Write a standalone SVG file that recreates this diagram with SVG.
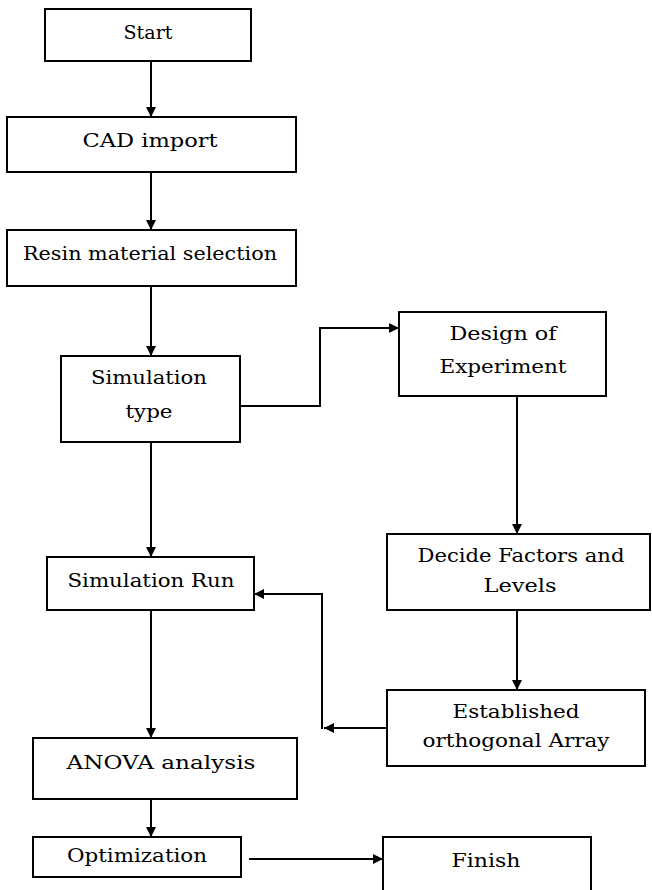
<svg xmlns="http://www.w3.org/2000/svg" width="652" height="890" viewBox="0 0 652 890">
<style>
.box{fill:#fff;stroke:#000;stroke-width:2}
.ln{fill:none;stroke:#000;stroke-width:2}
text{font-family:"DejaVu Serif","Liberation Serif",serif;font-size:18px;fill:#000;text-anchor:middle}
</style>
<defs>
<marker id="ah" markerUnits="userSpaceOnUse" markerWidth="11" markerHeight="11" refX="10" refY="5" orient="auto">
<path d="M0,0 L10,5 L0,10 z" fill="#000"/>
</marker>
</defs>
<rect width="652" height="890" fill="#fff"/>
<g id="connectors">
<line class="ln" x1="151" y1="61" x2="151" y2="117" marker-end="url(#ah)"/>
<line class="ln" x1="151" y1="172" x2="151" y2="230" marker-end="url(#ah)"/>
<line class="ln" x1="151" y1="286" x2="151" y2="356" marker-end="url(#ah)"/>
<polyline class="ln" points="240,406 320,406 320,328 399,328" marker-end="url(#ah)"/>
<line class="ln" x1="151" y1="442" x2="151" y2="557" marker-end="url(#ah)"/>
<line class="ln" x1="517" y1="396" x2="517" y2="534" marker-end="url(#ah)"/>
<line class="ln" x1="517" y1="610" x2="517" y2="690" marker-end="url(#ah)"/>
<line class="ln" x1="387" y1="728" x2="324" y2="728" marker-end="url(#ah)"/>
<polyline class="ln" points="322,729 322,594 254,594" marker-end="url(#ah)"/>
<line class="ln" x1="151" y1="610" x2="151" y2="738" marker-end="url(#ah)"/>
<line class="ln" x1="151" y1="799" x2="151" y2="837" marker-end="url(#ah)"/>
<line class="ln" x1="249" y1="859" x2="383" y2="859" marker-end="url(#ah)"/>
</g>
<g id="start"><rect class="box" x="45" y="9" width="206" height="52"/><text x="148" y="39" textLength="49" lengthAdjust="spacingAndGlyphs">Start</text></g>
<g id="cad"><rect class="box" x="7" y="117" width="289" height="55"/><text x="150" y="147" textLength="135" lengthAdjust="spacingAndGlyphs">CAD import</text></g>
<g id="resin"><rect class="box" x="7" y="230" width="289" height="56"/><text x="150" y="260" textLength="254" lengthAdjust="spacingAndGlyphs">Resin material selection</text></g>
<g id="simtype"><rect class="box" x="61" y="356" width="179" height="86"/><text x="149" y="384" textLength="116" lengthAdjust="spacingAndGlyphs">Simulation</text><text x="149" y="418" textLength="47" lengthAdjust="spacingAndGlyphs">type</text></g>
<g id="doe"><rect class="box" x="399" y="312" width="207" height="84"/><text x="503" y="340" textLength="107" lengthAdjust="spacingAndGlyphs">Design of</text><text x="503" y="373" textLength="127" lengthAdjust="spacingAndGlyphs">Experiment</text></g>
<g id="decide"><rect class="box" x="387" y="534" width="263" height="76"/><text x="521" y="562" textLength="207" lengthAdjust="spacingAndGlyphs">Decide Factors and</text><text x="520" y="592" textLength="73" lengthAdjust="spacingAndGlyphs">Levels</text></g>
<g id="simrun"><rect class="box" x="47" y="557" width="207" height="53"/><text x="151" y="587" textLength="167" lengthAdjust="spacingAndGlyphs">Simulation Run</text></g>
<g id="established"><rect class="box" x="387" y="690" width="258" height="76"/><text x="516" y="718" textLength="127" lengthAdjust="spacingAndGlyphs">Established</text><text x="516" y="747" textLength="187" lengthAdjust="spacingAndGlyphs">orthogonal Array</text></g>
<g id="anova"><rect class="box" x="33" y="738" width="264" height="61"/><text x="161" y="769" textLength="189" lengthAdjust="spacingAndGlyphs">ANOVA analysis</text></g>
<g id="optimization"><rect class="box" x="33" y="837" width="208" height="40"/><text x="137" y="862" textLength="140" lengthAdjust="spacingAndGlyphs">Optimization</text></g>
<g id="finish"><rect class="box" x="383" y="837" width="208" height="60"/><text x="486" y="867" textLength="69" lengthAdjust="spacingAndGlyphs">Finish</text></g>
</svg>
